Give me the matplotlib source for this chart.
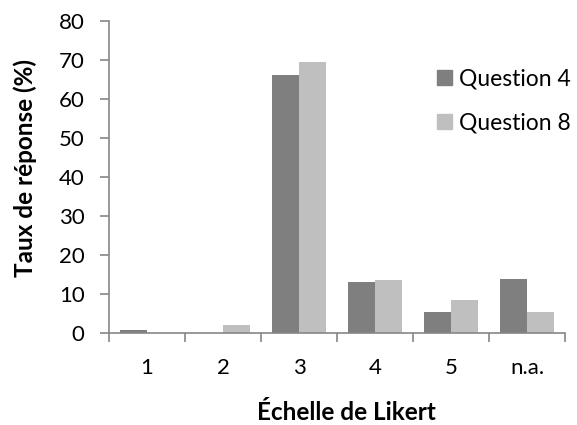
import numpy as np
import matplotlib.pyplot as plt
from matplotlib.patches import Patch

categories = ["1", "2", "3", "4", "5", "n.a."]
question_4 = [0.85, 0.0, 66.2, 13.0, 5.4, 13.8]
question_8 = [0.0, 2.1, 69.4, 13.6, 8.5, 5.5]
series_names = ["Question 4", "Question 8"]

plt.rcParams["font.family"] = ["Lato", "DejaVu Sans"]
dark = "#7f7f7f"
light = "#bfbfbf"
axis_grey = "#868686"
fs = 16

fig = plt.figure(figsize=(5.77, 4.25), dpi=100)
ax = fig.add_axes([0.1889, 0.2158, 0.7903, 0.7355])

x = np.arange(len(categories))
w = 0.35
ax.bar(x - w / 2, question_4, width=w, color=dark)
ax.bar(x + w / 2, question_8, width=w, color=light)

ax.set_xlim(-0.5, len(categories) - 0.5)
ax.set_ylim(0, 80)
ax.set_yticks(range(0, 81, 10))
ax.set_xticks(x)
ax.set_xticklabels(categories)
ax.set_xticks(np.arange(-0.5, len(categories), 1.0), minor=True)

for s in ["top", "right"]:
    ax.spines[s].set_visible(False)
for s in ["left", "bottom"]:
    ax.spines[s].set_color(axis_grey)
    ax.spines[s].set_linewidth(1.2)

ax.tick_params(axis="x", which="major", length=0, pad=18, labelsize=fs)
ax.tick_params(axis="x", which="minor", length=6.5, width=1.2, color=axis_grey)
ax.tick_params(axis="y", length=6.5, width=1.2, color=axis_grey, labelsize=fs, pad=11)

# axis titles placed in figure coordinates, as in the original layout
fig.text(25 / 577, 1 - 168 / 425, "Taux de réponse (%)", rotation=90,
         ha="center", va="center", fontsize=17.5, fontweight="bold")
fig.text(346 / 577, 1 - 412 / 425, "Échelle de Likert",
         ha="center", va="center", fontsize=17.5, fontweight="bold")

handles = [Patch(color=dark), Patch(color=light)]
fig.legend(handles, series_names, loc="upper left", bbox_to_anchor=(0.757, 0.839),
           frameon=False, fontsize=16.5, handlelength=0.66, handleheight=0.6,
           handletextpad=0.3, labelspacing=1.0, borderpad=0, borderaxespad=0)

fig.savefig("out.png", dpi=100)
